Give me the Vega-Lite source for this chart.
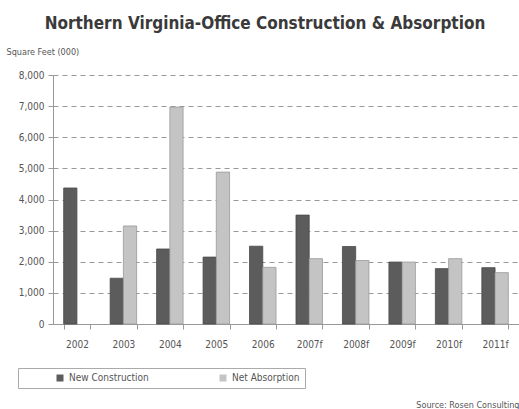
{
  "$schema": "https://vega.github.io/schema/vega-lite/v6.json",
  "width": 466,
  "height": 249,
  "autosize": {"type": "none"},
  "padding": {"left": 53, "top": 75, "right": 0, "bottom": 85},
  "background": "white",
  "title": {
    "text": "Northern Virginia-Office Construction & Absorption",
    "font": "DejaVu Sans Condensed, Liberation Sans, sans-serif",
    "fontSize": 17,
    "fontWeight": "bold",
    "color": "#3a3a3a",
    "anchor": "middle",
    "dx": -21,
    "offset": 14
  },
  "data": {
    "values": [
      {"year": "2002", "series": "New Construction", "value": 4370},
      {"year": "2003", "series": "New Construction", "value": 1470},
      {"year": "2003", "series": "Net Absorption", "value": 3150},
      {"year": "2004", "series": "New Construction", "value": 2410},
      {"year": "2004", "series": "Net Absorption", "value": 6970},
      {"year": "2005", "series": "New Construction", "value": 2150},
      {"year": "2005", "series": "Net Absorption", "value": 4880},
      {"year": "2006", "series": "New Construction", "value": 2500},
      {"year": "2006", "series": "Net Absorption", "value": 1820},
      {"year": "2007f", "series": "New Construction", "value": 3500},
      {"year": "2007f", "series": "Net Absorption", "value": 2100},
      {"year": "2008f", "series": "New Construction", "value": 2490},
      {"year": "2008f", "series": "Net Absorption", "value": 2040},
      {"year": "2009f", "series": "New Construction", "value": 1990},
      {"year": "2009f", "series": "Net Absorption", "value": 1990},
      {"year": "2010f", "series": "New Construction", "value": 1780},
      {"year": "2010f", "series": "Net Absorption", "value": 2100},
      {"year": "2011f", "series": "New Construction", "value": 1810},
      {"year": "2011f", "series": "Net Absorption", "value": 1650}
    ]
  },
  "mark": {"type": "bar", "strokeWidth": 0.8},
  "encoding": {
    "x": {
      "field": "year",
      "type": "nominal",
      "sort": null,
      "scale": {"paddingInner": 0.43, "paddingOuter": 0.23},
      "axis": {
        "title": "Source: Rosen Consulting",
        "titleFont": "DejaVu Sans Condensed, Liberation Sans, sans-serif",
        "titleFontSize": 9,
        "titleFontWeight": "normal",
        "titleColor": "#555",
        "titleX": 466,
        "titleY": 80,
        "titleAlign": "right",
        "titleBaseline": "middle",
        "labelAngle": 0,
        "labelFont": "DejaVu Sans Condensed, Liberation Sans, sans-serif",
        "labelFontSize": 10,
        "labelColor": "#555",
        "labelPadding": 10,
        "tickBand": "extent",
        "tickSize": 5,
        "tickColor": "#999",
        "domainColor": "#999",
        "grid": false
      }
    },
    "xOffset": {"field": "series", "type": "nominal", "sort": ["New Construction", "Net Absorption"]},
    "y": {
      "field": "value",
      "type": "quantitative",
      "scale": {"domain": [0, 8000]},
      "axis": {
        "title": "Square Feet (000)",
        "titleAngle": 0,
        "titleX": -47,
        "titleY": -24,
        "titleAlign": "left",
        "titleBaseline": "middle",
        "titleFont": "DejaVu Sans Condensed, Liberation Sans, sans-serif",
        "titleFontSize": 9,
        "titleFontWeight": "normal",
        "titleColor": "#555",
        "values": [0, 1000, 2000, 3000, 4000, 5000, 6000, 7000, 8000],
        "format": ",d",
        "labelFont": "DejaVu Sans Condensed, Liberation Sans, sans-serif",
        "labelFontSize": 10,
        "labelColor": "#555",
        "labelPadding": 4,
        "tickSize": 5,
        "tickColor": "#999",
        "domainColor": "#999",
        "grid": true,
        "gridColor": "#999",
        "gridDash": [5, 4],
        "gridWidth": 1
      }
    },
    "fill": {
      "field": "series",
      "type": "nominal",
      "scale": {"domain": ["New Construction", "Net Absorption"], "range": ["#5c5c5c", "#c4c4c4"]},
      "legend": {
        "title": null,
        "orient": "none",
        "legendX": -35,
        "legendY": 293,
        "direction": "horizontal",
        "strokeColor": "#aaa",
        "padding": 5,
        "symbolType": "square",
        "symbolSize": 49,
        "symbolOffset": 32,
        "symbolStrokeWidth": 0,
        "columnPadding": 37,
        "labelFont": "DejaVu Sans Condensed, Liberation Sans, sans-serif",
        "labelFontSize": 10,
        "labelColor": "#555"
      }
    },
    "stroke": {
      "field": "series",
      "type": "nominal",
      "scale": {"domain": ["New Construction", "Net Absorption"], "range": ["#4a4a4a", "#999999"]},
      "legend": null
    }
  },
  "config": {"view": {"stroke": null}}
}
